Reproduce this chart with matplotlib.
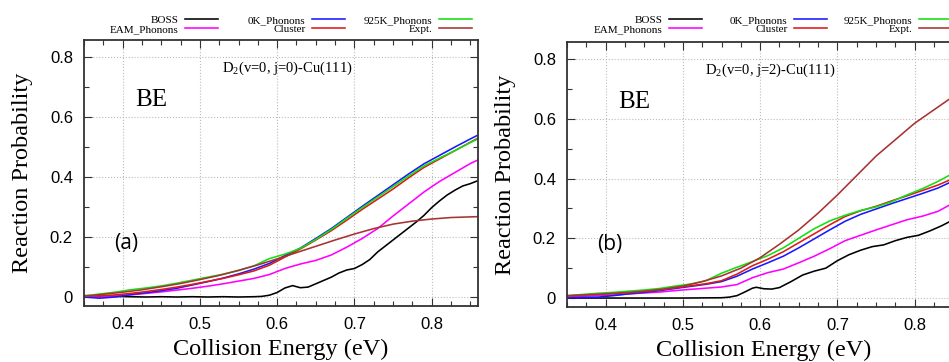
import numpy as np
import matplotlib
matplotlib.use('Agg')
import matplotlib.pyplot as plt
from matplotlib.legend import Legend
from matplotlib.ticker import MultipleLocator, FixedLocator, FixedFormatter

plt.rcParams['font.family'] = ['Liberation Serif', 'DejaVu Serif']
plt.rcParams['mathtext.fontset'] = 'custom'
plt.rcParams['mathtext.rm'] = 'Liberation Serif'

# ---- panel (a): D2(v=0, j=0) ----
energy_a = [0.35, 0.37, 0.39, 0.41, 0.43, 0.45, 0.47, 0.49, 0.51, 0.53, 0.55, 0.57, 0.59,
            0.61, 0.63, 0.65, 0.67, 0.69, 0.71, 0.73, 0.75, 0.77, 0.79, 0.81, 0.83, 0.85, 0.86]
eam_a = [0.002, 0.000, 0.003, 0.007, 0.012, 0.017, 0.023, 0.029, 0.036, 0.044, 0.053, 0.062, 0.075,
         0.095, 0.110, 0.122, 0.140, 0.166, 0.195, 0.228, 0.270, 0.310, 0.350, 0.385, 0.415, 0.445, 0.457]
ph0k_a = [0.000, -0.004, 0.000, 0.008, 0.014, 0.021, 0.029, 0.040, 0.051, 0.063, 0.077, 0.093, 0.112,
          0.138, 0.163, 0.195, 0.228, 0.265, 0.302, 0.338, 0.374, 0.410, 0.444, 0.472, 0.500, 0.527, 0.540]
cluster_a = [0.005, 0.004, 0.007, 0.012, 0.018, 0.025, 0.033, 0.042, 0.052, 0.062, 0.074, 0.087, 0.106,
             0.133, 0.160, 0.190, 0.221, 0.256, 0.292, 0.326, 0.360, 0.397, 0.432, 0.460, 0.488, 0.516, 0.530]
ph925k_a = [0.003, 0.010, 0.016, 0.024, 0.030, 0.037, 0.046, 0.056, 0.066, 0.076, 0.088, 0.104, 0.128,
            0.143, 0.162, 0.192, 0.225, 0.262, 0.298, 0.333, 0.368, 0.403, 0.437, 0.463, 0.488, 0.515, 0.527]

boss_energy_a = [0.35, 0.37, 0.39, 0.41, 0.43, 0.45, 0.47, 0.49, 0.51, 0.53, 0.55, 0.57, 0.58, 0.59,
                 0.60, 0.61, 0.62, 0.63, 0.64, 0.65, 0.66, 0.67, 0.68, 0.69, 0.70, 0.71, 0.72, 0.73,
                 0.74, 0.75, 0.76, 0.77, 0.78, 0.79, 0.80, 0.81, 0.82, 0.83, 0.84, 0.85, 0.86]
boss_a = [0.002, 0.003, 0.002, 0.001, 0.000, 0.001, 0.000, 0.001, 0.000, 0.001, 0.000, 0.001, 0.002, 0.006,
          0.015, 0.030, 0.038, 0.031, 0.033, 0.044, 0.055, 0.066, 0.080, 0.090, 0.095, 0.108, 0.125, 0.150,
          0.170, 0.190, 0.210, 0.230, 0.250, 0.272, 0.298, 0.320, 0.340, 0.356, 0.370, 0.378, 0.388]

expt_energy_a = [0.35, 0.375, 0.40, 0.425, 0.45, 0.475, 0.50, 0.525, 0.55, 0.575, 0.60,
                 0.625, 0.65, 0.675, 0.70, 0.725, 0.75, 0.775, 0.80, 0.825, 0.86]
expt_a = [0.003, 0.009, 0.016, 0.024, 0.034, 0.045, 0.058, 0.072, 0.089, 0.107, 0.127,
          0.148, 0.169, 0.190, 0.210, 0.228, 0.243, 0.253, 0.260, 0.265, 0.268]

# ---- panel (b): D2(v=0, j=2) ----
energy_b = [0.35, 0.37, 0.39, 0.41, 0.43, 0.45, 0.47, 0.49, 0.51, 0.53, 0.55, 0.57, 0.59,
            0.61, 0.63, 0.65, 0.67, 0.69, 0.71, 0.73, 0.75, 0.77, 0.79, 0.81, 0.83, 0.85]
eam_b = [0.003, 0.006, 0.008, 0.010, 0.014, 0.017, 0.020, 0.025, 0.029, 0.033, 0.037, 0.045, 0.068,
         0.085, 0.097, 0.118, 0.140, 0.165, 0.192, 0.210, 0.228, 0.245, 0.262, 0.274, 0.290, 0.318]
ph0k_b = [0.000, 0.002, 0.003, 0.008, 0.014, 0.019, 0.025, 0.032, 0.039, 0.046, 0.055, 0.073, 0.097,
          0.118, 0.140, 0.168, 0.198, 0.228, 0.257, 0.280, 0.298, 0.316, 0.333, 0.350, 0.368, 0.392]
cluster_b = [0.006, 0.010, 0.013, 0.015, 0.018, 0.022, 0.027, 0.034, 0.041, 0.048, 0.058, 0.080, 0.108,
             0.130, 0.155, 0.185, 0.215, 0.245, 0.273, 0.292, 0.307, 0.325, 0.342, 0.360, 0.378, 0.400]
ph925k_b = [0.008, 0.012, 0.016, 0.019, 0.023, 0.027, 0.032, 0.040, 0.047, 0.058, 0.083, 0.103, 0.122,
            0.142, 0.168, 0.200, 0.232, 0.258, 0.277, 0.293, 0.305, 0.322, 0.345, 0.366, 0.390, 0.418]

boss_energy_b = [0.35, 0.40, 0.45, 0.50, 0.55, 0.56, 0.57, 0.58, 0.59, 0.595, 0.605, 0.615, 0.625,
                 0.64, 0.655, 0.67, 0.685, 0.70, 0.715, 0.73, 0.745, 0.76, 0.775, 0.79, 0.805,
                 0.82, 0.835, 0.85]
boss_b = [0.000, 0.000, 0.000, 0.000, 0.001, 0.003, 0.008, 0.020, 0.033, 0.036, 0.031, 0.030, 0.035,
          0.055, 0.077, 0.090, 0.100, 0.125, 0.145, 0.160, 0.172, 0.178, 0.192, 0.203, 0.210,
          0.225, 0.242, 0.262]

expt_energy_b = [0.35, 0.375, 0.40, 0.425, 0.45, 0.475, 0.50, 0.525, 0.55, 0.575, 0.60,
                 0.625, 0.65, 0.675, 0.70, 0.725, 0.75, 0.775, 0.80, 0.825, 0.85]
expt_b = [0.008, 0.011, 0.014, 0.018, 0.023, 0.030, 0.040, 0.055, 0.074, 0.100, 0.135,
          0.180, 0.228, 0.284, 0.345, 0.410, 0.475, 0.530, 0.585, 0.630, 0.675]

series_names = ['BOSS', 'EAM_Phonons', '0K_Phonons', 'Cluster', '925K_Phonons', 'Expt.']
series_colors = ['#000000', '#ff00ff', '#1818ff', '#e01818', '#10e010', '#a83232']
y_ticks = [0.0, 0.2, 0.4, 0.6, 0.8]
y_ticklabels = ['0', '0.2', '0.4', '0.6', '0.8']
x_ticks = [0.4, 0.5, 0.6, 0.7, 0.8]
x_ticklabels = ['0.4', '0.5', '0.6', '0.7', '0.8']

W, H = 949, 362
fig = plt.figure(figsize=(W / 100, H / 100), dpi=100)


def px(x0, y0, x1, y1):
    return [x0 / W, 1 - y1 / H, (x1 - x0) / W, (y1 - y0) / H]


def draw_panel(ax, curves, title, tag):
    handles = []
    for (xs, ys), name, c in zip(curves, series_names, series_colors):
        ln, = ax.plot(xs, ys, color=c, lw=1.15, label=name)
        handles.append(ln)
    ax.set_xlim(0.35, 0.86)
    ax.set_ylim(-0.03, 0.857)
    ax.xaxis.set_major_locator(FixedLocator(x_ticks))
    ax.xaxis.set_major_formatter(FixedFormatter(x_ticklabels))
    ax.yaxis.set_major_locator(FixedLocator(y_ticks))
    ax.yaxis.set_major_formatter(FixedFormatter(y_ticklabels))
    ax.xaxis.set_minor_locator(MultipleLocator(0.025))
    ax.yaxis.set_minor_locator(MultipleLocator(0.1))
    ax.tick_params(which='both', direction='in', top=True, right=True,
                   labelsize=12, labelfontfamily='Liberation Sans', color='#333333', pad=8)
    ax.tick_params(which='major', length=6, width=0.8)
    ax.tick_params(which='minor', length=3.5, width=0.8)
    ax.grid(True, which='major', ls=':', color='#bcbcbc', lw=0.8)
    for s in ax.spines.values():
        s.set_linewidth(1.3)
        s.set_color('#333333')
    ax.set_xlabel('Collision Energy (eV)', fontsize=17.5, labelpad=5)
    ax.set_ylabel('Reaction Probability', fontsize=17.5, labelpad=12)
    ax.text(0.416, 0.636, 'BE', fontsize=18)
    ax.text(0.528, 0.75, title, fontsize=10.5)
    ax.text(0.405, 0.178, tag, fontsize=15, family='Open Sans', ha='center', va='center')
    return handles


def add_key(ax, handles, right_px, top_px):
    # three little two-row keys above the frame, gnuplot style
    for k in range(3):
        pair = handles[2 * k:2 * k + 2]
        leg = Legend(ax, pair, [h.get_label() for h in pair], loc='upper right',
                     bbox_to_anchor=(right_px[k] / W, 1 - top_px / H),
                     bbox_transform=fig.transFigure, frameon=False, fontsize=8,
                     markerfirst=False, handlelength=3.0, handletextpad=0.55,
                     labelspacing=-0.05, borderpad=0, borderaxespad=0)
        ax.add_artist(leg)


ax1 = fig.add_axes(px(84, 40, 478, 306))
h1 = draw_panel(ax1, [(boss_energy_a, boss_a), (energy_a, eam_a), (energy_a, ph0k_a),
                      (energy_a, cluster_a), (energy_a, ph925k_a), (expt_energy_a, expt_a)],
                r'D$_{\mathrm{2}}$(v=0, j=0)-Cu(111)', '(a)')
add_key(ax1, h1, [218, 345, 472], 15)

ax2 = fig.add_axes(px(567, 42, 961, 307))
h2 = draw_panel(ax2, [(boss_energy_b, boss_b), (energy_b, eam_b), (energy_b, ph0k_b),
                      (energy_b, cluster_b), (energy_b, ph925k_b), (expt_energy_b, expt_b)],
                r'D$_{\mathrm{2}}$(v=0, j=2)-Cu(111)', '(b)')
add_key(ax2, h2, [702, 827, 952], 15)

fig.savefig('out.png', dpi=100)
